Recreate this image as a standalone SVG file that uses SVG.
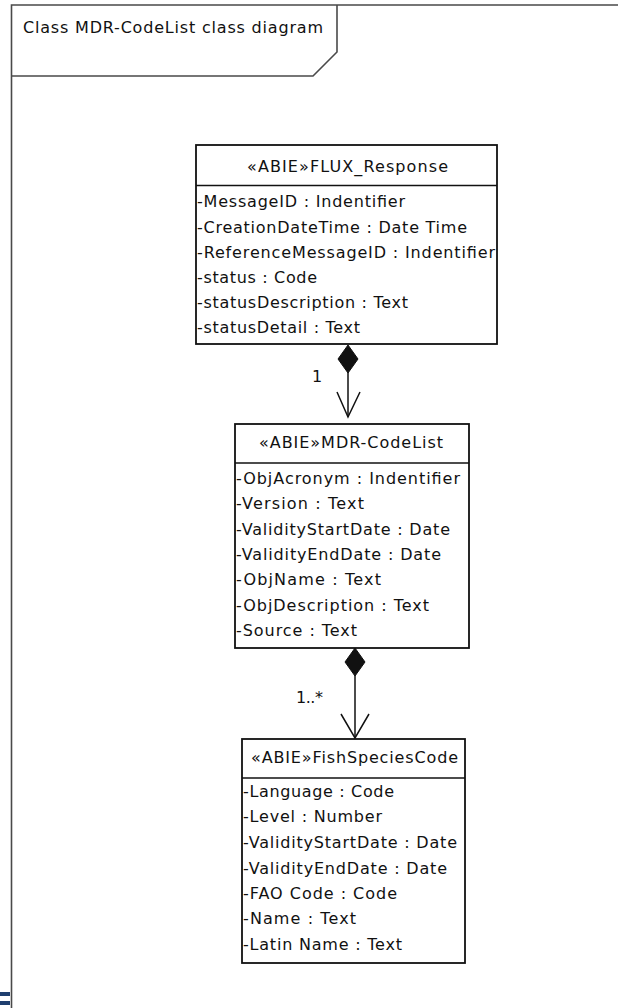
<svg xmlns="http://www.w3.org/2000/svg" width="618" height="1008" viewBox="0 0 618 1008">
<style>
text{font-family:"DejaVu Sans","Liberation Sans",sans-serif;font-size:16px;fill:#111;}
.box{fill:#fff;stroke:#111;stroke-width:1.8;}
.sep{stroke:#111;stroke-width:1.5;}
.frame{fill:none;stroke:#4a4a4a;stroke-width:1.6;}
.conn{stroke:#111;stroke-width:1.5;fill:none;}
.dia{fill:#111;stroke:#111;stroke-width:1;}
</style>
<rect width="618" height="1008" fill="#fff"/>
<g id="frame">
<path class="frame" d="M11.5,1008 V5 H618"/>
<path class="frame" d="M11.5,76 H313 L337,52 V5"/>
<text x="23" y="33" textLength="300" lengthAdjust="spacing">Class MDR-CodeList class diagram</text>
</g>
<g id="FLUX_Response">
<rect class="box" x="196" y="145" width="301" height="199"/>
<line class="sep" x1="196" y1="185.5" x2="497" y2="185.5"/>
<text x="247" y="172" textLength="201" lengthAdjust="spacing">«ABIE»FLUX_Response</text>
<text x="197" y="207" textLength="208" lengthAdjust="spacing">-MessageID : Indentifier</text>
<text x="197" y="232.5" textLength="270" lengthAdjust="spacing">-CreationDateTime : Date Time</text>
<text x="197" y="257.5" textLength="298" lengthAdjust="spacing">-ReferenceMessageID : Indentifier</text>
<text x="197" y="282.5" textLength="120" lengthAdjust="spacing">-status : Code</text>
<text x="197" y="307.5" textLength="211" lengthAdjust="spacing">-statusDescription : Text</text>
<text x="197" y="332.5" textLength="163" lengthAdjust="spacing">-statusDetail : Text</text>
</g>
<g id="MDR-CodeList">
<rect class="box" x="235" y="424" width="234" height="224"/>
<line class="sep" x1="235" y1="463" x2="469" y2="463"/>
<text x="259" y="448" textLength="184" lengthAdjust="spacing">«ABIE»MDR-CodeList</text>
<text x="236" y="483.5" textLength="224" lengthAdjust="spacing">-ObjAcronym : Indentifier</text>
<text x="236" y="509" textLength="128" lengthAdjust="spacing">-Version : Text</text>
<text x="236" y="534.5" textLength="214" lengthAdjust="spacing">-ValidityStartDate : Date</text>
<text x="236" y="559.5" textLength="205" lengthAdjust="spacing">-ValidityEndDate : Date</text>
<text x="236" y="585" textLength="145" lengthAdjust="spacing">-ObjName : Text</text>
<text x="236" y="610.5" textLength="193" lengthAdjust="spacing">-ObjDescription : Text</text>
<text x="236" y="636" textLength="121" lengthAdjust="spacing">-Source : Text</text>
</g>
<g id="FishSpeciesCode">
<rect class="box" x="242" y="739" width="223" height="224"/>
<line class="sep" x1="242" y1="778" x2="465" y2="778"/>
<text x="251" y="763" textLength="207" lengthAdjust="spacing">«ABIE»FishSpeciesCode</text>
<text x="243" y="797" textLength="151" lengthAdjust="spacing">-Language : Code</text>
<text x="243" y="822" textLength="139" lengthAdjust="spacing">-Level : Number</text>
<text x="243" y="848" textLength="214" lengthAdjust="spacing">-ValidityStartDate : Date</text>
<text x="243" y="873.5" textLength="204" lengthAdjust="spacing">-ValidityEndDate : Date</text>
<text x="243" y="899" textLength="154" lengthAdjust="spacing">-FAO Code : Code</text>
<text x="243" y="924" textLength="113" lengthAdjust="spacing">-Name : Text</text>
<text x="243" y="949.5" textLength="159" lengthAdjust="spacing">-Latin Name : Text</text>
</g>
<g id="connectors">
<line class="conn" x1="348" y1="372" x2="348" y2="417"/>
<polygon class="dia" points="348,345 358,359 348,373 338,359"/>
<polyline class="conn" points="337,392 348,417 360,392"/>
<text x="312" y="382">1</text>
<line class="conn" x1="355" y1="675" x2="355" y2="738"/>
<polygon class="dia" points="355,648 365,662 355,676 345,662"/>
<polyline class="conn" points="341,714 355,738 369,714"/>
<text x="296" y="703" textLength="27" lengthAdjust="spacing">1..*</text>
</g>
<g id="edge-mark" fill="#1f3f6f">
<rect x="0" y="992" width="10" height="4"/>
<rect x="0" y="1001" width="10" height="4"/>
</g>
</svg>
